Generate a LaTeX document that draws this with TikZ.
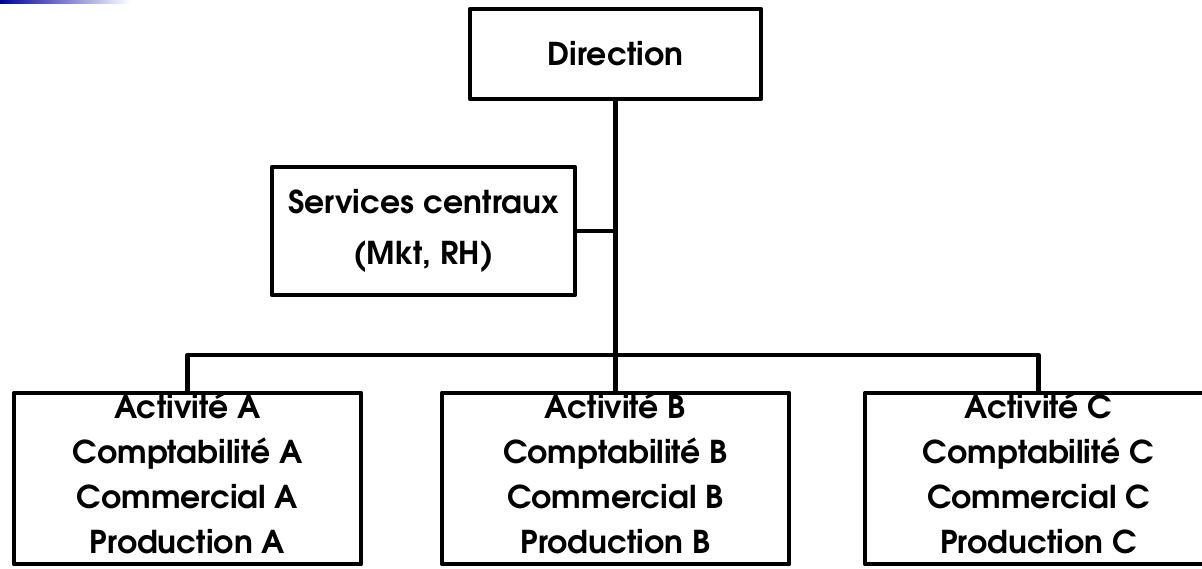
\documentclass[tikz,border=0pt]{standalone}
\usepackage{fontspec}
\setmainfont{texgyreadventor}[Extension=.otf, UprightFont=*-regular, BoldFont=*-bold, ItalicFont=*-italic, BoldItalicFont=*-bolditalic]
\begin{document}
\begin{tikzpicture}[x=0.75pt,y=-0.75pt,
  box/.style={draw=black, line width=3.4pt, line join=round, fill=white, inner sep=0pt, align=center, font=\bfseries\fontsize{23.6}{33.75}\selectfont},
  unit/.style={box, minimum width=260.25pt, minimum height=128.25pt, text depth=8pt},
  link/.style={draw=black, line width=3.4pt, line join=round}]
\useasboundingbox (0,0) rectangle (1202,568);
\clip (0,0) rectangle (1202,568);
\shade[left color=blue!60!black, right color=white] (0,0) rectangle (130,3);
\node[box, minimum width=218.25pt, minimum height=67.5pt] (dir) at (615.5,54) {Direction};
\node[box, minimum width=227.25pt, minimum height=96pt, font=\bfseries\fontsize{23.6}{38.25}\selectfont] (svc) at (423.5,231) {Services centraux\\(Mkt, RH)};
\node[unit] (A) at (187.5,478.5) {Activité A\\Comptabilité A\\Commercial A\\Production A};
\node[unit] (B) at (615.5,478.5) {Activité B\\Comptabilité B\\Commercial B\\Production B};
\node[unit] (C) at (1038.5,478.5) {Activité C\\Comptabilité C\\Commercial C\\Production C};
\coordinate (bus) at (615.5,355);
\draw[link] (dir.south) -- (bus);
\draw[link] (svc.east) -- (svc.east -| dir.south);
\draw[link] (A.north) |- (bus) -| (C.north);
\draw[link] (bus) -- (B.north);
\end{tikzpicture}
\end{document}
